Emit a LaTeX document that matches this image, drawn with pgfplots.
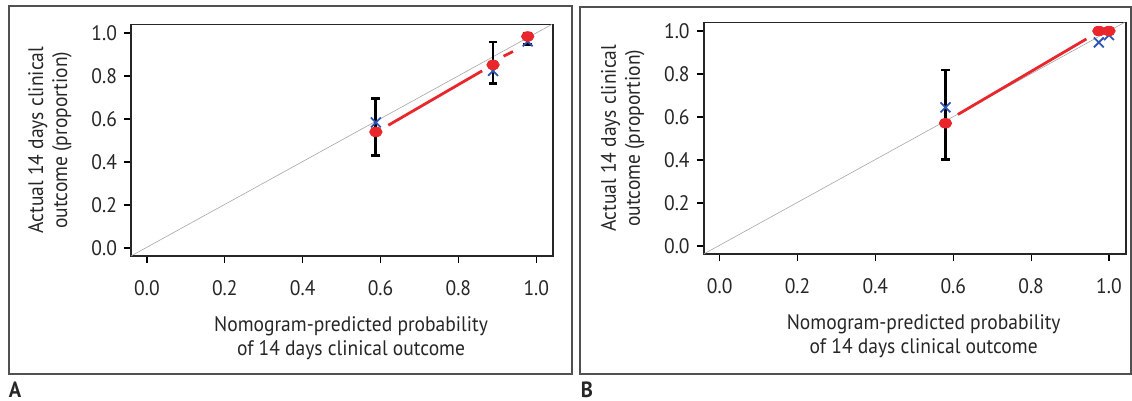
\documentclass[border=0pt]{standalone}
\usepackage{fontspec}
\setmainfont{PT Sans}[FakeStretch=0.93]
\usepackage{pgfplots}
\pgfplotsset{compat=1.18}

\definecolor{obsred}{HTML}{E8262B}
\definecolor{cblue}{HTML}{2E55B5}
\definecolor{boxgray}{HTML}{505050}

\pgfplotsset{calib/.style={
  scale only axis, width=211pt, height=115.8pt,
  xmin=-0.041, xmax=1.043, ymin=-0.037, ymax=1.04,
  xtick={0,0.2,0.4,0.6,0.8,1}, ytick={0,0.2,0.4,0.6,0.8,1},
  xtick pos=bottom, ytick pos=left, tick align=outside,
  tick style={black, line width=0.6pt},
  major tick length=3.5pt,
  axis line style={black!85, line width=0.9pt},
  /pgf/number format/.cd, fixed, fixed zerofill, precision=1, assume math mode=true,
  /pgfplots/.cd,
  tick label style={font=\fontsize{10.5}{12}\selectfont, text=black!85},
  xticklabel style={yshift=-5pt},
  label style={font=\fontsize{10.5}{12}\selectfont, align=center, text=black!85},
  xlabel={Nomogram-predicted probability\\of 14 days clinical outcome},
  ylabel={Actual 14 days clinical\\outcome (proportion)},
  xlabel style={yshift=-4pt, xshift=4.5pt},
  ylabel style={yshift=3pt},
  clip=false,
}}

\begin{document}
\begin{tikzpicture}
\path[use as bounding box] (0pt,0pt) rectangle (566pt,-200.5pt);

% panel A
\begin{axis}[calib, at={(65.5pt,-128pt)}, anchor=south west]
\addplot[black!35, line width=0.3pt] coordinates {(-0.041,-0.037) (1.04,1.04)};
\addplot[draw=none, mark=none, error bars/.cd, y dir=both, y explicit,
  error bar style={draw=black, line width=1.4pt},
  error mark options={draw=black, line width=1.4pt, mark size=2.2pt, rotate=90}]
  coordinates {
  (0.588,0.540) += (0,0.157) -= (0,0.110)
  (0.889,0.852) += (0,0.106) -= (0,0.085)
  (0.978,0.984) += (0,0.016) -= (0,0.038)
};
\addplot[only marks, mark=x, mark size=3.5pt, mark options={cblue, line width=0.9pt}]
  coordinates {(0.588,0.584) (0.889,0.824) (0.978,0.961)};
\addplot[obsred, line width=1.4pt] coordinates {(0.620,0.571) (0.861,0.824)};
\addplot[obsred, line width=1.4pt] coordinates {(0.916,0.892) (0.940,0.914)};
\addplot[only marks, mark=*, mark size=2.4pt, mark options={obsred, draw=obsred, xscale=1.3}]
  coordinates {(0.588,0.540) (0.889,0.852) (0.978,0.984)};
\end{axis}

% panel B
\begin{axis}[calib, at={(351.85pt,-127pt)}, anchor=south west]
\addplot[black!35, line width=0.3pt] coordinates {(-0.041,-0.037) (1.04,1.04)};
\addplot[draw=none, mark=none, error bars/.cd, y dir=both, y explicit,
  error bar style={draw=black, line width=1.4pt},
  error mark options={draw=black, line width=1.4pt, mark size=2.2pt, rotate=90}]
  coordinates {
  (0.580,0.571) += (0,0.248) -= (0,0.168)
};
\addplot[only marks, mark=x, mark size=3.5pt, mark options={cblue, line width=0.9pt}]
  coordinates {(0.580,0.645) (0.974,0.947) (1.0,0.981)};
\addplot[obsred, line width=1.4pt] coordinates {(0.612,0.612) (0.942,0.963)};
\addplot[only marks, mark=*, mark size=2.4pt, mark options={obsred, draw=obsred, xscale=1.3}]
  coordinates {(0.580,0.571) (0.974,1.0) (1.0,1.0)};
\end{axis}

% panel frames and letters
\draw[boxgray, line width=0.7pt] (4.5pt,-3pt) rectangle (286pt,-187pt);
\draw[boxgray, line width=0.7pt] (290pt,-3.5pt) rectangle (565.5pt,-187pt);
\node[font=\bfseries\fontsize{11}{12}\selectfont, text=black!85] at (7.5pt,-195pt) {A};
\node[font=\bfseries\fontsize{11}{12}\selectfont, text=black!85] at (293.5pt,-195pt) {B};
\end{tikzpicture}
\end{document}
